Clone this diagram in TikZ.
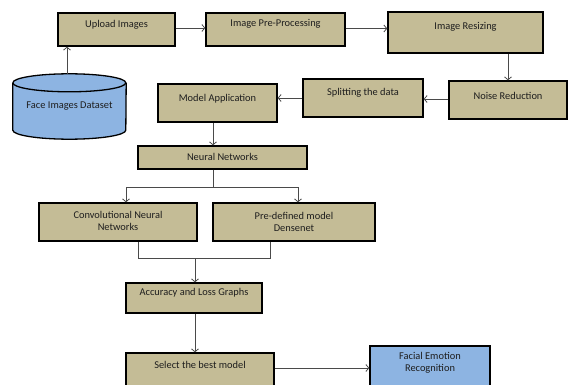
\documentclass[tikz,border=0pt]{standalone}
\usepackage{fontspec}
\setmainfont{Carlito}
\usetikzlibrary{arrows.meta}
\definecolor{tanfill}{HTML}{C4BC96}
\definecolor{bluefill}{HTML}{8DB4E2}
\definecolor{linecol}{HTML}{4A4A4A}
\definecolor{txtcol}{HTML}{1E1E1E}
\tikzset{
  box/.style={draw=black, line width=1.3pt, fill=tanfill, inner sep=0pt},
  bluebox/.style={box, fill=bluefill},
  txt/.style={font=\fontsize{10.4}{12.5}\selectfont, text=txtcol, align=center, inner sep=0pt},
  conn/.style={draw=linecol, line width=0.8pt},
  arr/.style={conn, -{Straight Barb[length=3pt,width=7pt]}}
}
\begin{document}
\begin{tikzpicture}[x=1pt,y=-1pt]
\useasboundingbox (0,0) rectangle (568,385);
\clip (0,0) rectangle (568,385);
% boxes
\node[box, minimum width=117, minimum height=33, label={[txt,yshift=4.5pt]center:Upload Images}] (up) at (116.5,29.5) {};
\node[box, minimum width=139, minimum height=33, label={[txt,yshift=5.5pt]center:Image Pre-Processing}] (pre) at (275.5,29.5) {};
\node[box, minimum width=155, minimum height=41, label={[txt,yshift=5.5pt]center:Image Resizing}] (resize) at (465.5,32.5) {};
\node[box, minimum width=118, minimum height=38, label={[txt,yshift=4pt]center:Noise Reduction}] (noise) at (508,100) {};
\node[box, minimum width=120, minimum height=38, label={[txt,yshift=5pt]center:Splitting the data}] (split) at (363,98) {};
\node[box, minimum width=119, minimum height=38, label={[txt,yshift=4pt]center:Model Application}] (model) at (217.5,103) {};
\node[box, minimum width=169, minimum height=23, label={[txt,yshift=0.5pt]center:Neural Networks}] (nn) at (222.5,157.5) {};
\node[box, minimum width=158, minimum height=38, label={[txt,yshift=1pt]center:Convolutional Neural\\Networks}] (cnn) at (118,222) {};
\node[box, minimum width=162, minimum height=38, label={[txt]center:Pre-defined model\\Densenet}] (pdm) at (294,222) {};
\node[box, minimum width=136, minimum height=30, label={[txt,yshift=5pt]center:Accuracy and Loss Graphs}] (acc) at (194,298) {};
\node[box, minimum width=148, minimum height=47, label={[txt,yshift=11.5pt]center:Select the best model}] (sel) at (200,376.5) {};
\node[bluebox, minimum width=120, minimum height=54, label={[txt,yshift=10pt]center:Facial Emotion\\Recognition}] (fer) at (430,373) {};
% dataset cylinder
\node[inner sep=0pt, minimum width=113, minimum height=65] (ds) at (69.5,106.5) {};
\coordinate (tl) at ([yshift=-9pt]ds.north west);
\coordinate (tr) at ([yshift=-9pt]ds.north east);
\coordinate (bl) at ([yshift=9pt]ds.south west);
\fill[bluefill] (tl) -- (bl) arc[start angle=180, end angle=0, x radius=56.5, y radius=9] -- (tr) arc[start angle=0, end angle=-180, x radius=56.5, y radius=9] -- cycle;
\draw[line width=1.3pt] (tl) -- (bl) arc[start angle=180, end angle=0, x radius=56.5, y radius=9] -- (tr);
\draw[line width=1.3pt] (tl) arc[start angle=180, end angle=-180, x radius=56.5, y radius=9];
\node[txt] (dstxt) at ([yshift=0.5pt]ds.center) {Face Images Dataset};
% helper coordinates
\coordinate (dsn) at ([xshift=-2.5pt]ds.north);
\coordinate (upe) at ([yshift=1.5pt]up.east);
\coordinate (pree) at ([yshift=1pt]pre.east);
\coordinate (noisew) at ([yshift=1pt]noise.west);
\coordinate (mods) at ([xshift=-4.5pt]model.south);
\coordinate (nns) at ([xshift=-9.5pt]nn.south);
\coordinate (j1) at ([xshift=-9.5pt,yshift=-18pt]nn.south);
\coordinate (cnnn) at ([xshift=8pt]cnn.north);
\coordinate (pdmn) at ([xshift=4pt]pdm.north);
\coordinate (cnns) at ([xshift=20pt]cnn.south);
\coordinate (pdms) at ([xshift=-24pt]pdm.south);
\coordinate (accn) at ([xshift=1pt]acc.north);
\coordinate (accs) at ([xshift=1pt]acc.south);
\coordinate (m) at ([yshift=-17pt]cnns -| accn);
\coordinate (sele) at ([yshift=8.5pt]sel.east);
% connectors
\draw[arr] (dsn) -- (dsn |- up.south);
\draw[arr] (upe) -- (pre.west |- upe);
\draw[arr] (pree) -- (resize.west |- pree);
\draw[arr] (resize.south -| noise.north) -- (noise.north);
\draw[arr] (noisew) -- (split.east |- noisew);
\draw[arr] (split.west) -- (model.east |- split.west);
\draw[arr] (mods) -- (mods |- nn.north);
\draw[conn] (nns) -- (j1);
\draw[arr] (j1) -| (cnnn);
\draw[arr] (j1) -| (pdmn);
\draw[conn] (cnns) |- (m) -| (pdms);
\draw[arr] (m) -- (accn);
\draw[arr] (accs) -- (accs |- sel.north);
\draw[arr] (sele) -- (fer.west |- sele);
\end{tikzpicture}
\end{document}
